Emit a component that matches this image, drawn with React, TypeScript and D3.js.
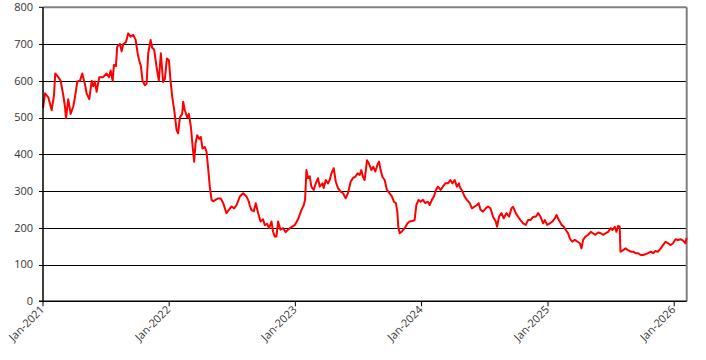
import React from "react";
import * as d3 from "d3";

// decimal-year time stamps
const years: number[] = [
2021.000,2021.016,2021.042,2021.069,2021.087,2021.097,2021.121,2021.140,2021.161,2021.174,2021.182,2021.200,2021.219,2021.240,2021.253,2021.272,2021.293,2021.311,2021.333,2021.346,2021.367,2021.386,2021.398,2021.412,2021.425,2021.446,2021.477,2021.504,2021.523,2021.536,2021.552,2021.562,2021.578,2021.588,2021.610,2021.623,2021.636,2021.657,2021.675,2021.694,2021.715,2021.734,2021.750,2021.762,2021.776,2021.789,2021.808,2021.821,
2021.834,2021.853,2021.865,2021.881,2021.900,2021.918,2021.934,2021.952,2021.966,2021.982,2021.998,2022.011,2022.024,2022.040,2022.059,2022.071,2022.085,2022.103,2022.111,2022.124,2022.143,2022.156,2022.172,2022.185,2022.198,2022.209,2022.222,2022.238,2022.251,2022.264,2022.283,2022.296,2022.309,2022.322,2022.336,2022.348,2022.367,2022.388,2022.409,2022.428,2022.454,2022.473,2022.494,2022.515,2022.534,2022.560,2022.586,2022.613,2022.631,
2022.639,2022.652,2022.671,2022.686,2022.705,2022.724,2022.744,2022.758,2022.776,2022.792,2022.811,2022.823,2022.837,2022.850,2022.863,2022.882,2022.903,2022.924,2022.942,2022.969,2022.995,2023.021,2023.048,2023.067,2023.077,2023.088,2023.101,2023.114,2023.127,2023.146,2023.162,2023.180,2023.193,2023.215,2023.225,2023.241,2023.259,2023.272,2023.286,2023.304,2023.320,2023.338,2023.357,2023.378,2023.399,2023.417,2023.439,2023.457,2023.478,
2023.492,2023.510,2023.523,2023.536,2023.549,2023.568,2023.583,2023.603,2023.618,2023.634,2023.650,2023.663,2023.676,2023.690,2023.708,2023.726,2023.747,2023.766,2023.781,2023.797,2023.808,2023.816,2023.827,2023.845,2023.866,2023.888,2023.906,2023.932,2023.945,2023.959,2023.977,2023.993,2024.011,2024.030,2024.051,2024.064,2024.082,2024.098,2024.114,2024.130,2024.151,2024.169,2024.188,2024.209,2024.228,2024.244,2024.262,2024.280,2024.296,
2024.302,2024.323,2024.341,2024.359,2024.381,2024.399,2024.420,2024.439,2024.452,2024.466,2024.486,2024.508,2024.526,2024.545,2024.565,2024.587,2024.597,2024.613,2024.632,2024.650,2024.671,2024.692,2024.711,2024.724,2024.745,2024.763,2024.782,2024.803,2024.824,2024.842,2024.861,2024.882,2024.903,2024.922,2024.941,2024.961,2024.975,2024.993,2025.014,2025.035,2025.054,2025.067,2025.086,2025.107,2025.125,2025.141,2025.159,2025.173,
2025.191,2025.212,2025.234,2025.252,2025.265,2025.278,2025.297,2025.318,2025.339,2025.357,2025.376,2025.397,2025.418,2025.436,2025.455,2025.476,2025.497,2025.511,2025.529,2025.542,2025.555,2025.568,2025.574,2025.595,2025.614,2025.634,2025.656,2025.674,2025.693,2025.713,2025.735,2025.753,2025.772,2025.793,2025.814,2025.832,2025.851,2025.872,2025.893,2025.911,2025.930,2025.951,2025.972,2025.991,2026.010,2026.030,2026.051,2026.070,2026.089,2026.099
];

const prices: number[] = [
526,566,555,520,560,620,610,600,560,530,498,550,510,530,555,598,600,620,590,565,550,600,585,598,570,610,610,620,610,628,600,643,640,693,700,680,700,705,729,720,725,712,675,656,640,600,588,592,
675,711,690,685,638,600,675,597,605,661,656,600,557,520,466,457,500,510,543,520,500,510,475,425,380,430,452,442,447,416,420,407,362,312,276,272,276,280,280,267,240,249,258,253,262,285,294,285,272,
260,248,245,267,240,217,223,207,211,199,217,190,176,176,217,195,199,188,195,202,207,223,248,262,276,357,335,340,312,303,321,335,312,321,308,330,321,330,348,362,326,308,299,294,280,294,326,335,340,
348,344,357,339,330,384,375,357,366,353,371,380,357,339,330,303,294,285,271,267,244,203,185,190,199,212,217,219,221,262,276,271,276,267,271,262,276,285,303,312,303,312,321,321,330,321,330,312,321,
312,299,285,276,267,253,258,262,267,249,244,253,258,253,230,217,203,230,240,226,240,230,253,257,240,230,221,212,208,221,221,230,230,240,230,212,221,208,212,217,226,235,221,208,203,194,185,171,
162,167,162,158,144,167,176,181,189,185,181,187,185,181,185,189,199,194,203,189,205,203,135,139,144,139,135,135,131,131,126,126,128,131,135,131,137,135,144,153,162,158,153,158,169,167,169,165,158,172
];

const yTicks = [0, 100, 200, 300, 400, 500, 600, 700, 800];
const xTickYears = [2021, 2022, 2023, 2024, 2025, 2026];

function toDate(y: number): Date {
  const yr = Math.floor(y);
  const start = new Date(yr, 0, 1).getTime();
  const end = new Date(yr + 1, 0, 1).getTime();
  return new Date(start + (y - yr) * (end - start));
}

export default function App() {
  const W = 706, H = 360;
  const left = 43, right = 686.7, top = 7.3, bottom = 301.3;
  const data = years.map((y, i) => ({ d: toDate(y), v: prices[i] }));
  const x = d3.scaleTime().domain([toDate(years[0]), toDate(years[years.length - 1])]).range([left, right]);
  const y = d3.scaleLinear().domain([0, 800]).range([bottom, top]);
  const line = d3.line<{ d: Date; v: number }>().x(p => x(p.d)).y(p => y(p.v));
  const font = "'Open Sans', 'DejaVu Sans', sans-serif";
  return (
    <svg width={W} height={H} style={{ position: "absolute", left: 0, top: 0, background: "#fff" }}>
      {yTicks.slice(1, -1).map(t => (
        <line key={t} x1={left - 4} x2={right} y1={Math.round(y(t)) + 0.5} y2={Math.round(y(t)) + 0.5} stroke="#000" strokeWidth={1} />
      ))}
      <line x1={left} x2={right} y1={y(800)} y2={y(800)} stroke="#808080" strokeWidth={2} />
      <line x1={right} x2={right} y1={y(800)} y2={bottom} stroke="#808080" strokeWidth={2} />
      <line x1={left - 4} x2={left} y1={y(800)} y2={y(800)} stroke="#000" strokeWidth={1} />
      <path d={line(data) || ""} fill="none" stroke="#ff0000" strokeWidth={2} strokeLinejoin="round" />
      <line x1={left} x2={left} y1={y(800)} y2={bottom + 1} stroke="#000" strokeWidth={1.5} />
      <line x1={left - 4} x2={right} y1={bottom} y2={bottom} stroke="#000" strokeWidth={1.5} />
      {xTickYears.map(yr => {
        const xx = x(new Date(yr, 0, 1));
        return (
          <g key={yr}>
            <line x1={xx} x2={xx} y1={bottom} y2={bottom + 5} stroke="#000" strokeWidth={1} />
            <text transform={`translate(${xx + 2},${bottom + 9}) rotate(-45)`} textAnchor="end" fontFamily={font} fontSize={11} fill="#333">{`Jan-${yr}`}</text>
          </g>
        );
      })}
      {yTicks.map(t => (
        <text key={t} x={33} y={y(t)} dy="0.35em" textAnchor="end" fontFamily={font} fontSize={11} fill="#333">{t}</text>
      ))}
    </svg>
  );
}
